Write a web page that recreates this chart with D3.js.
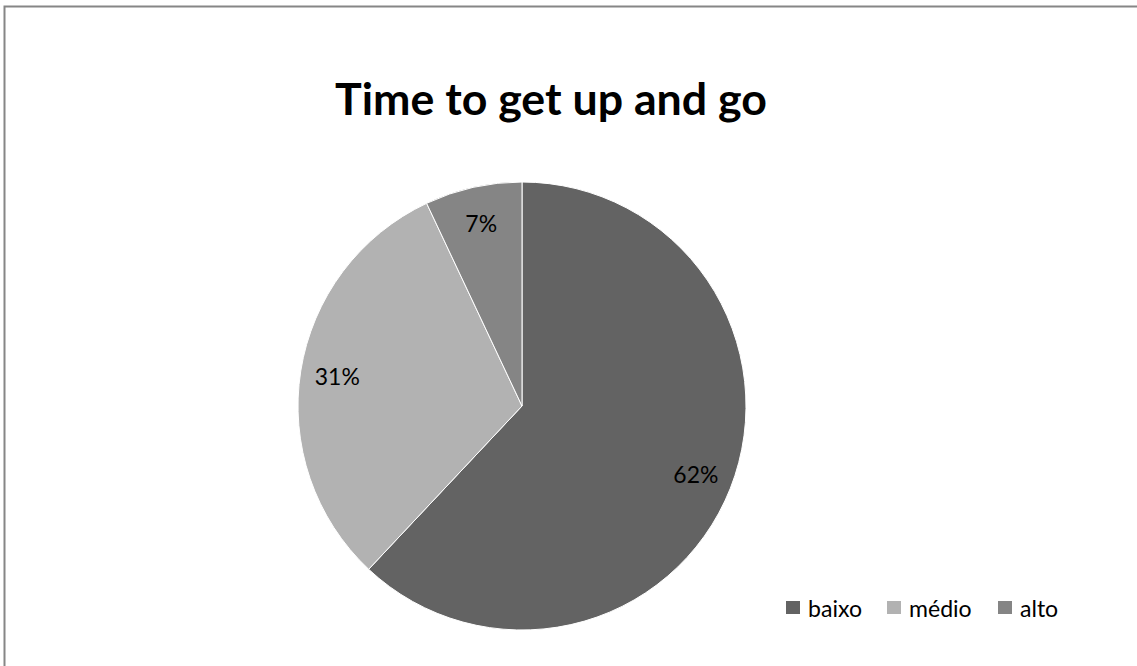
<!DOCTYPE html>
<html><head><meta charset="utf-8">
<script src="https://cdn.jsdelivr.net/npm/d3@7"></script>
<style>body{margin:0;background:#fff;}svg{display:block;}</style>
</head><body>
<svg id="c" width="1137" height="666"></svg>
<script>
const categories = ["baixo", "médio", "alto"];
const values = [62, 31, 7];
const colors = ["#636363", "#b2b2b2", "#858585"];
const title = "Time to get up and go";

const svg = d3.select("#c");
const font = "Lato, Calibri, 'Open Sans', sans-serif";

function fit(sel, target) {
  const fs = parseFloat(sel.attr("font-size"));
  const w = sel.node().getComputedTextLength();
  sel.attr("font-size", (fs * target / w).toFixed(2));
}

svg.append("rect").attr("width",1137).attr("height",666).attr("fill","#fff");
svg.append("path").attr("d","M4.5,666 V6.5 H1137").attr("fill","none").attr("stroke","#868686").attr("stroke-width",2);

const t = svg.append("text").attr("x",551).attr("y",115).attr("text-anchor","middle")
  .attr("font-family",font).attr("font-weight","bold").attr("font-size",33).attr("fill","#000").text(title);
fit(t, 432);

const cx = 522, cy = 406, R = 224;
const pie = d3.pie().sort(null).value(d=>d)(values);
const arc = d3.arc().innerRadius(0).outerRadius(R);
const labelArc = d3.arc().innerRadius(187).outerRadius(187);
const g = svg.append("g").attr("transform",`translate(${cx},${cy})`);
g.selectAll("path").data(pie).join("path")
  .attr("d",arc).attr("fill",(d,i)=>colors[i]).attr("stroke","#fff").attr("stroke-width",1);
const labels = g.selectAll("text").data(pie).join("text")
  .attr("transform",d=>`translate(${labelArc.centroid(d)})`)
  .attr("text-anchor","middle").attr("dy","0.36em")
  .attr("font-family",font).attr("font-size",18).attr("fill","#000")
  .text(d=>d.data+"%");
const lw = labels.filter((d,i)=>i===0).node().getComputedTextLength();
labels.attr("font-size", (18*45/lw).toFixed(2));

const legX = [786, 887, 998];
const lg = svg.append("g");
let legFs = null;
categories.forEach((c,i)=>{
  lg.append("rect").attr("x",legX[i]).attr("y",601).attr("width",14).attr("height",13).attr("fill",colors[i]);
  const tx = lg.append("text").attr("x",legX[i]+22).attr("y",617).attr("font-family",font).attr("font-size",18).attr("fill","#000").text(c);
  if (i===0) { fit(tx, 54); legFs = tx.attr("font-size"); } else tx.attr("font-size", legFs);
});
</script>
</body></html>
